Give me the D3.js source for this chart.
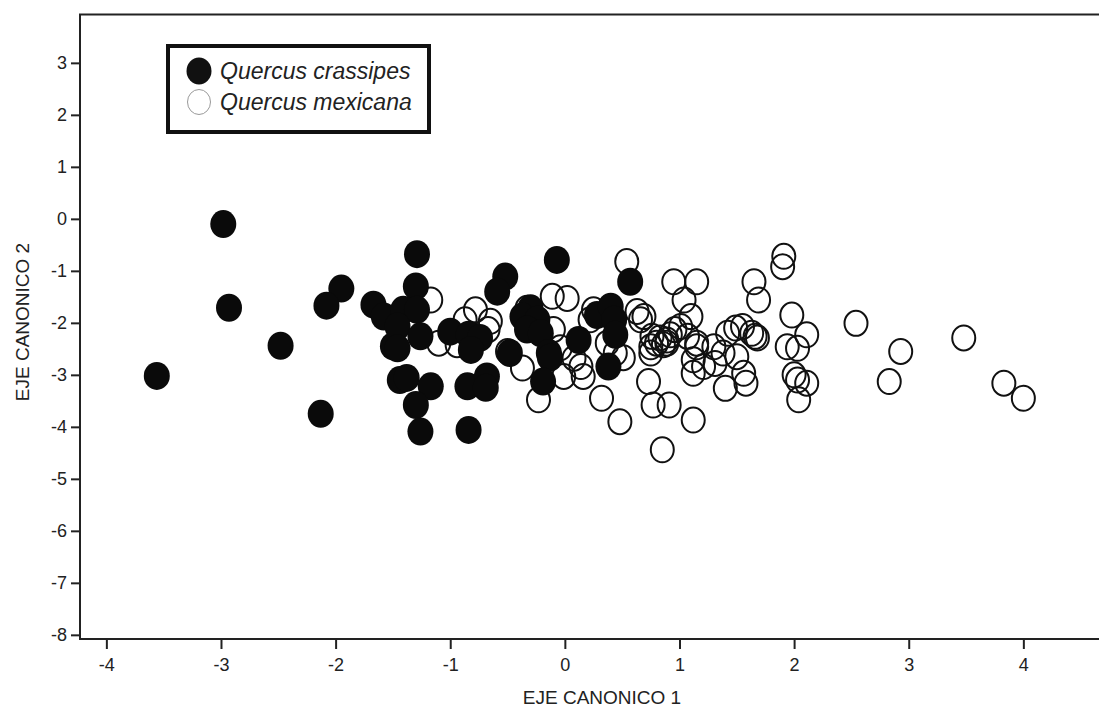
<!DOCTYPE html>
<html>
<head>
<meta charset="utf-8">
<script src="https://cdn.jsdelivr.net/npm/d3@7"></script>
<style>
  body { margin: 0; background: #fff; }
  svg { display: block; }
</style>
</head>
<body>
<svg id="chart"></svg>
<script>
// Quercus crassipes (filled) – [EJE CANONICO 1, EJE CANONICO 2]
const crassipes = [
  [-2.98, -0.10], [-2.93, -1.71], [-2.48, -2.44], [-3.56, -3.02], [-2.13, -3.75],
  [-1.95, -1.34], [-2.08, -1.67], [-1.67, -1.65], [-1.58, -1.88], [-1.50, -2.45],
  [-1.44, -3.10], [-1.29, -0.68], [-1.30, -1.30], [-1.41, -1.75], [-1.29, -1.75],
  [-1.46, -2.07], [-1.26, -2.26], [-1.46, -2.49], [-1.38, -3.06], [-1.17, -3.22],
  [-1.30, -3.58], [-1.26, -4.09], [-0.84, -4.06], [-0.85, -3.22], [-0.68, -3.03],
  [-0.69, -3.25], [-1.00, -2.17], [-0.84, -2.23], [-0.74, -2.29], [-0.82, -2.52],
  [-0.52, -1.11], [-0.59, -1.40], [-0.30, -1.72], [-0.37, -1.88], [-0.24, -1.94],
  [-0.33, -2.13], [-0.21, -2.20], [-0.48, -2.58], [-0.14, -2.58], [-0.13, -2.67],
  [-0.19, -3.13], [-0.07, -0.79], [0.57, -1.21], [0.28, -1.85], [0.40, -1.69],
  [0.43, -1.94], [0.44, -2.23], [0.12, -2.33], [0.38, -2.84]
];

// Quercus mexicana (open)
const mexicana = [
  [-1.17, -1.56], [-1.10, -2.39], [-0.78, -1.75], [-0.87, -1.94], [-0.65, -1.97],
  [-0.67, -2.13], [-0.94, -2.42], [-0.50, -2.55], [-0.37, -2.87], [-0.23, -3.48],
  [-0.33, -1.72], [-0.11, -1.49], [0.02, -1.53], [-0.10, -2.13], [-0.04, -2.48],
  [0.08, -2.68], [-0.01, -3.03], [0.14, -2.84], [0.16, -3.03], [0.25, -1.75],
  [0.22, -1.94], [0.32, -3.45], [0.37, -2.39], [0.44, -2.58], [0.48, -3.90],
  [0.54, -0.82], [0.63, -1.78], [0.69, -1.88], [0.66, -1.94], [0.51, -2.67],
  [0.76, -2.26], [0.75, -2.46], [0.83, -2.29], [0.89, -2.33], [0.86, -2.42],
  [0.92, -2.23], [0.73, -3.13], [0.77, -3.58], [0.91, -3.58], [0.85, -4.44],
  [0.95, -1.21], [1.15, -1.21], [1.04, -1.56], [1.10, -1.88], [1.01, -2.07],
  [1.07, -2.26], [1.15, -2.39], [1.12, -2.97], [1.12, -3.87], [0.96, -2.13],
  [0.80, -2.39], [0.89, -2.39], [0.75, -2.58], [1.15, -2.46], [1.12, -2.71],
  [1.30, -2.46], [1.31, -2.78], [1.40, -3.26], [1.42, -2.20], [1.49, -2.10],
  [1.55, -2.07], [1.50, -2.65], [1.56, -2.97], [1.58, -3.16], [1.63, -2.20],
  [1.66, -2.26], [1.68, -2.29], [1.65, -1.21], [1.69, -1.56], [1.91, -0.72],
  [1.90, -0.92], [1.98, -1.85], [2.11, -2.23], [1.94, -2.46], [2.03, -2.49],
  [2.00, -3.00], [2.03, -3.10], [2.11, -3.16], [2.04, -3.48], [2.54, -2.01],
  [2.93, -2.55], [2.83, -3.13], [3.48, -2.29], [3.83, -3.16], [4.00, -3.45],
  [1.38, -2.58], [1.21, -2.84]
];

const xTicks = [-4, -3, -2, -1, 0, 1, 2, 3, 4];
const yTicks = [3, 2, 1, 0, -1, -2, -3, -4, -5, -6, -7, -8];
const legendLabels = ["Quercus crassipes", "Quercus mexicana"];

const font = "'Liberation Sans', Arial, sans-serif";
const width = 1099;
const height = 707;
const plot = { left: 80, right: 1099, top: 14.5, bottom: 639 };

const svg = d3.select("#chart").attr("width", width).attr("height", height);

const x = d3.scaleLinear().domain([-4.23, 4.66]).range([plot.left, plot.right]);
const y = d3.scaleLinear().domain([-8.08, 3.93]).range([plot.bottom, plot.top]);

// points: open ones first, filled drawn on top
svg.append("g")
  .selectAll("ellipse")
  .data(mexicana)
  .join("ellipse")
  .attr("cx", (d) => x(d[0]))
  .attr("cy", (d) => y(d[1]))
  .attr("rx", 11.5)
  .attr("ry", 12.5)
  .attr("fill", "none")
  .attr("stroke", "#111")
  .attr("stroke-width", 2);

svg.append("g")
  .selectAll("ellipse")
  .data(crassipes)
  .join("ellipse")
  .attr("cx", (d) => x(d[0]))
  .attr("cy", (d) => y(d[1]))
  .attr("rx", 13)
  .attr("ry", 14)
  .attr("fill", "#0a0a0a");

// axes
function styleAxis(g) {
  g.select(".domain").remove();
  g.attr("font-family", font).attr("font-size", 18);
  g.selectAll(".tick line").attr("stroke", "#222").attr("stroke-width", 2);
  g.selectAll(".tick text").attr("fill", "#222");
}

svg.append("g")
  .attr("transform", `translate(0,${plot.bottom})`)
  .call(d3.axisBottom(x).tickValues(xTicks).tickSize(10).tickPadding(9).tickFormat((d) => String(d)))
  .call(styleAxis);

svg.append("g")
  .attr("transform", `translate(${plot.left},0)`)
  .call(d3.axisLeft(y).tickValues(yTicks).tickSize(9).tickPadding(4).tickFormat((d) => String(d)))
  .call(styleAxis);

// frame lines: left, bottom, top
svg.append("path")
  .attr("d", `M${plot.right},${plot.top}H${plot.left}V${plot.bottom}H${plot.right}`)
  .attr("fill", "none")
  .attr("stroke", "#222")
  .attr("stroke-width", 2);

// axis titles
svg.append("text")
  .attr("x", 602)
  .attr("y", 704)
  .attr("text-anchor", "middle")
  .attr("font-family", font)
  .attr("font-size", 19)
  .attr("fill", "#222")
  .text("EJE CANONICO 1");

svg.append("text")
  .attr("transform", "translate(29,322) rotate(-90)")
  .attr("text-anchor", "middle")
  .attr("font-family", font)
  .attr("font-size", 19)
  .attr("fill", "#222")
  .text("EJE CANONICO 2");

// legend
const legend = svg.append("g");
legend.append("rect")
  .attr("x", 168).attr("y", 46)
  .attr("width", 261).attr("height", 86)
  .attr("fill", "#fff")
  .attr("stroke", "#111")
  .attr("stroke-width", 4);

const items = legend.selectAll("g.item")
  .data(legendLabels)
  .join("g")
  .attr("class", "item")
  .attr("transform", (d, i) => `translate(199,${71 + i * 31})`);

items.append("ellipse")
  .attr("rx", (d, i) => (i === 0 ? 12.5 : 11.5))
  .attr("ry", (d, i) => (i === 0 ? 13.5 : 12.5))
  .attr("fill", (d, i) => (i === 0 ? "#111" : "#fff"))
  .attr("stroke", (d, i) => (i === 0 ? "none" : "#999"))
  .attr("stroke-width", 1);

items.append("text")
  .attr("x", 21)
  .attr("y", 8)
  .attr("font-family", font)
  .attr("font-size", 23)
  .attr("font-style", "italic")
  .attr("fill", "#222")
  .text((d) => d);
</script>
</body>
</html>
